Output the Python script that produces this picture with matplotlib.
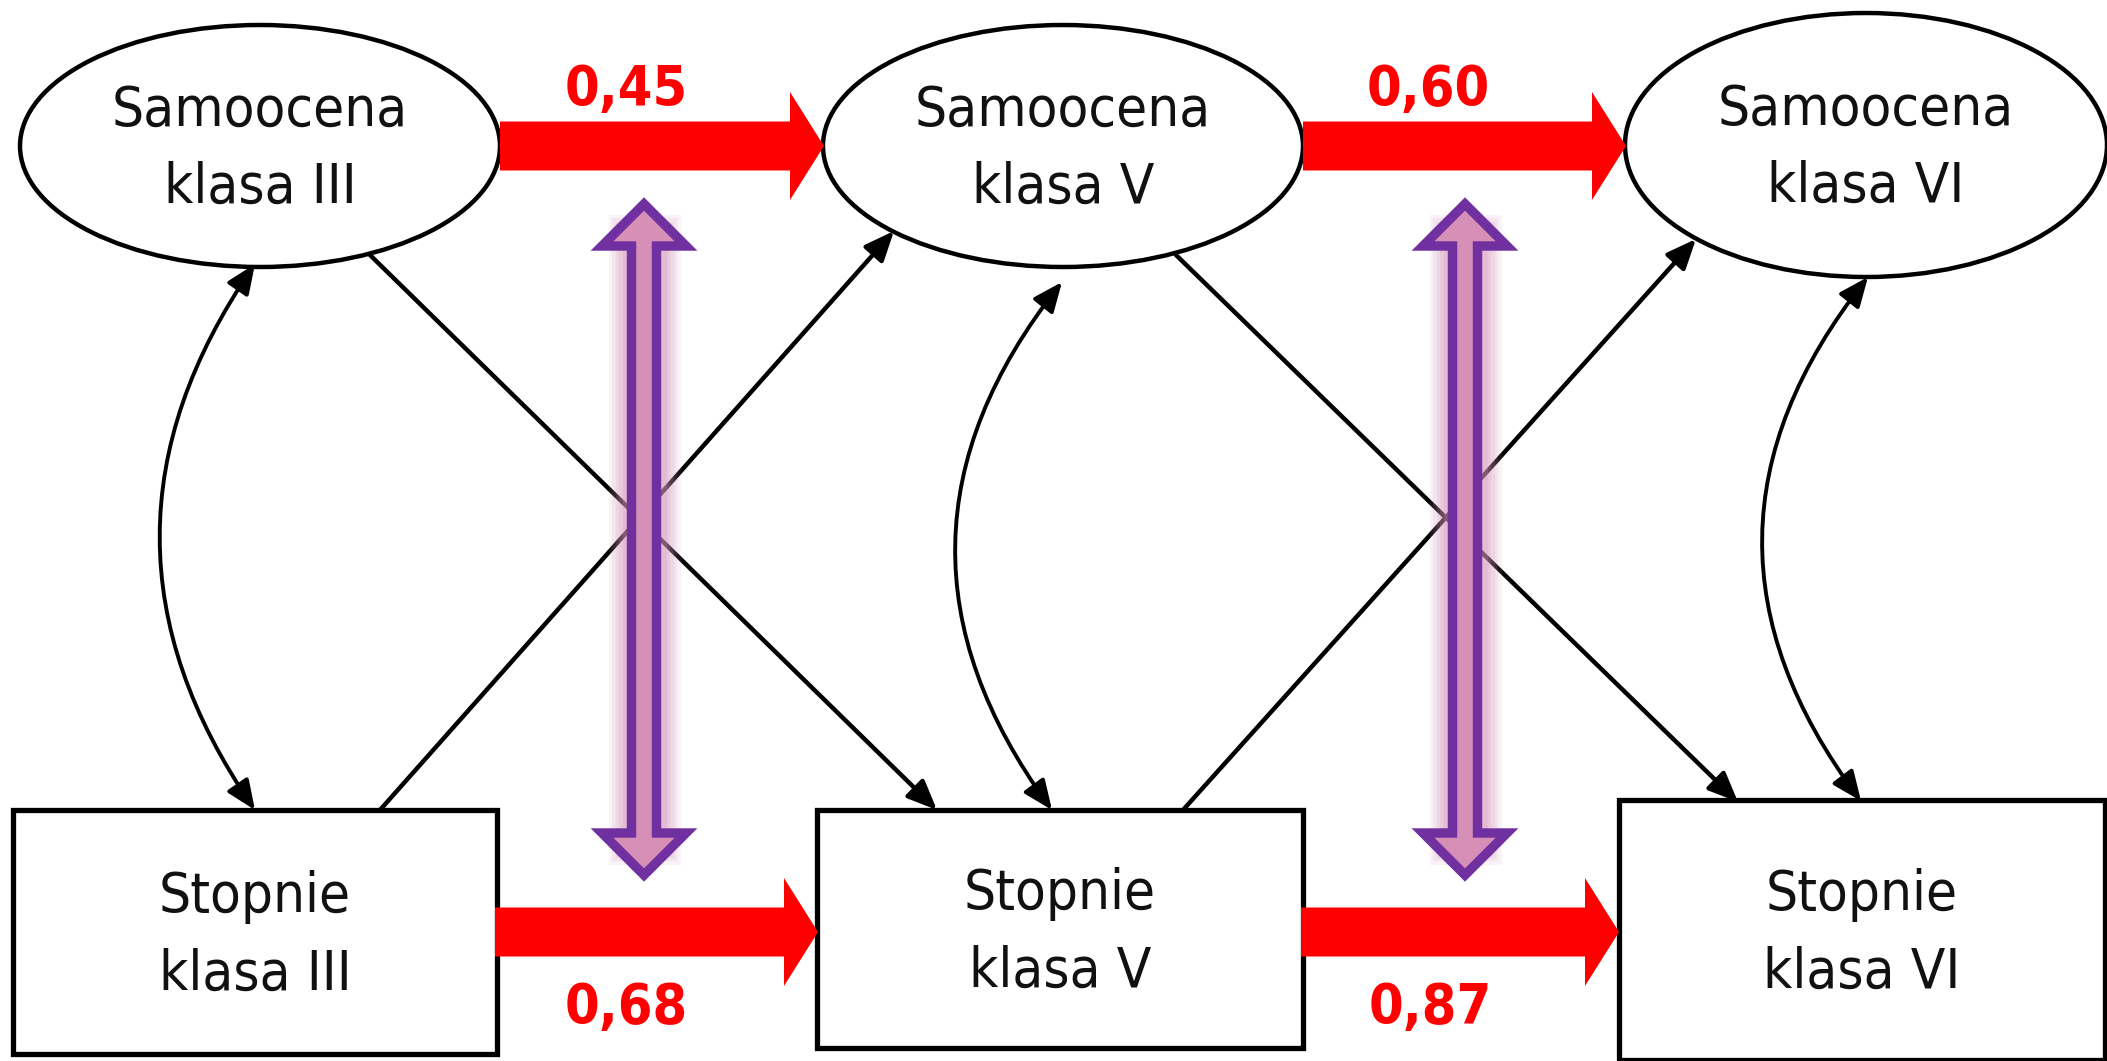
import matplotlib.pyplot as plt
from matplotlib.patches import Ellipse, Rectangle, FancyArrow, FancyArrowPatch, Polygon
import matplotlib.patheffects as pe

# node texts and path coefficients
top_labels = ['Samoocena\nklasa III', 'Samoocena\nklasa V', 'Samoocena\nklasa VI']
bottom_labels = ['Stopnie\nklasa III', 'Stopnie\nklasa V', 'Stopnie\nklasa VI']
top_coefs = ['0,45', '0,60']
bottom_coefs = ['0,68', '0,87']

# layout (pixel coords, y down)
ell_cx = [260, 1063, 1866]
ell_cy = [146, 146, 145]
ell_w = [480, 480, 482]
ell_h = [242, 242, 264]
box_l = [13, 817, 1619]
box_r = [497, 1303, 2105]
box_t = [810, 810, 800]
box_b = [1054, 1048, 1060]

W, H = 2107, 1061
fig = plt.figure(figsize=(W / 100, H / 100), dpi=100)
ax = fig.add_axes([0, 0, 1, 1])
ax.set_xlim(0, W)
ax.set_ylim(H, 0)
ax.axis('off')

font = dict(family='DejaVu Sans', stretch='condensed')

# black cross paths
cross = [((370, 255), (937, 810)), ((380, 810), (894, 231)),
         ((1176, 255), (1738, 802)), ((1183, 810), (1696, 239))]
for a, b in cross:
    ax.add_patch(FancyArrowPatch(a, b, arrowstyle='-|>,head_length=0.75,head_width=0.32',
                                 mutation_scale=24, lw=3.2, color='black', zorder=1,
                                 shrinkA=0, shrinkB=0))

# curved correlations
curves = [((255, 264), (255, 810), 0.344), ((1062, 282), (1052, 810), 0.38),
          ((1868, 277), (1861, 801), 0.385)]
for a, b, r in curves:
    ax.add_patch(FancyArrowPatch(a, b, arrowstyle='<|-|>,head_length=0.75,head_width=0.32',
                                 connectionstyle='arc3,rad=%s' % r,
                                 mutation_scale=24, lw=2.8, color='black', zorder=1,
                                 shrinkA=0, shrinkB=0))

# nodes
for i in range(3):
    ax.add_patch(Ellipse((ell_cx[i], ell_cy[i]), ell_w[i], ell_h[i], facecolor='white',
                         edgecolor='black', lw=3.2, zorder=2))
    ax.text(ell_cx[i], ell_cy[i] + 3, top_labels[i], ha='center', va='center',
            fontsize=40.5, linespacing=1.55, color='#111111', zorder=3, **font)
    ax.add_patch(Rectangle((box_l[i], box_t[i]), box_r[i] - box_l[i], box_b[i] - box_t[i],
                           facecolor='white', edgecolor='black', lw=3.8, zorder=2))
    ax.text((box_l[i] + box_r[i]) / 2, (box_t[i] + box_b[i]) / 2 + 4, bottom_labels[i],
            ha='center', va='center', fontsize=40.5, linespacing=1.55, color='#111111',
            zorder=3, **font)

# red stability paths
top_arr = [(500, 824), (1303, 1626)]
bot_arr = [(495, 818), (1301, 1619)]
for i in range(2):
    x0, x1 = top_arr[i]
    ax.add_patch(FancyArrow(x0, 146, x1 - x0, 0, width=49, head_width=108, head_length=34,
                            length_includes_head=True, color='#ff0000', lw=0, zorder=4))
    ax.text((x0 + x1) / 2 - 36, 90, top_coefs[i], ha='center', va='center', fontsize=40,
            fontweight='bold', color='#ff0000', zorder=4, **font)
    x0, x1 = bot_arr[i]
    ax.add_patch(FancyArrow(x0, 932, x1 - x0, 0, width=49, head_width=108, head_length=34,
                            length_includes_head=True, color='#ff0000', lw=0, zorder=4))
    ax.text((x0 + x1) / 2 - 30, 1008, bottom_coefs[i], ha='center', va='center', fontsize=40,
            fontweight='bold', color='#ff0000', zorder=4, **font)

# purple double arrows with soft glow
for cx in [644, 1465]:
    yt, yb, hw, sw, hl = 204, 875, 42, 12.5, 42
    pts = [(cx, yt), (cx + hw, yt + hl), (cx + sw, yt + hl), (cx + sw, yb - hl),
           (cx + hw, yb - hl), (cx, yb), (cx - hw, yb - hl), (cx - sw, yb - hl),
           (cx - sw, yt + hl), (cx - hw, yt + hl)]
    glow = Polygon([(cx - sw, yt + hl - 8), (cx + sw, yt + hl - 8),
                    (cx + sw, yb - hl + 8), (cx - sw, yb - hl + 8)], closed=True,
                   facecolor='#dca6c4', edgecolor='none', zorder=5)
    effects = []
    for w, a in [(34, 0.12), (29, 0.14), (24, 0.16), (19, 0.2), (14, 0.25)]:
        effects.append(pe.Stroke(linewidth=w, foreground='#d595b9', alpha=a))
    glow.set_path_effects(effects)
    ax.add_patch(glow)
    poly = Polygon(pts, closed=True, facecolor='#d68fb6', edgecolor='#7030a0', lw=6.8,
                   joinstyle='miter', zorder=6)
    ax.add_patch(poly)

fig.savefig('out.png', dpi=100)
